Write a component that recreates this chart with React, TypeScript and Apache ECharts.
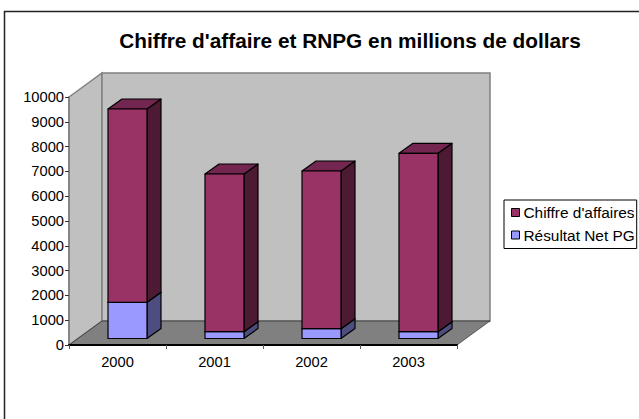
import React, { useEffect, useRef } from "react";
import * as echarts from "echarts";

const categories = ["2000", "2001", "2002", "2003"];
const resultatNet = [1460, 275, 395, 275];
const chiffreAffaires = [7794, 6358, 6359, 7193];
const yTicksMax = 10000;
const titleText = "Chiffre d'affaire et RNPG en millions de dollars";

const FONT = "'Liberation Sans', Arial, sans-serif";
const GRID = { left: 69, top: 97, width: 388, height: 248 };
const WALL = { dx: 33, dy: -24 };
const BAR = { offX: 10, offY: -6.5, width: 39, depthX: 14, depthY: -10 };

const poly = (pts: number[][], fill: string) => ({
  type: "polygon",
  shape: { points: pts },
  style: { fill, stroke: "#000", lineWidth: 1.2, lineJoin: "round" },
});

const boxRenderer = (front: string, top: string, side: string, lowerOf: number[] | null) => (params: any, api: any) => {
  const i = api.value(0);
  const v = api.value(1);
  const base = lowerOf ? lowerOf[i] : 0;
  const c0 = api.coord([i, base]);
  const c1 = api.coord([i, base + v]);
  const xL = c0[0] + BAR.offX - BAR.width / 2;
  const xR = xL + BAR.width;
  const yB = c0[1] + BAR.offY;
  const yT = c1[1] + BAR.offY;
  const dx = BAR.depthX;
  const dy = BAR.depthY;
  return {
    type: "group",
    children: [
      poly([[xR, yB], [xR + dx, yB + dy], [xR + dx, yT + dy], [xR, yT]], side),
      poly([[xL, yT], [xL + dx, yT + dy], [xR + dx, yT + dy], [xR, yT]], top),
      poly([[xL, yB], [xR, yB], [xR, yT], [xL, yT]], front),
    ],
  };
};

export default function App() {
  const ref = useRef<HTMLDivElement>(null);
  useEffect(() => {
    const chart = echarts.init(ref.current!, undefined, { renderer: "svg" });
    const x0 = GRID.left;
    const x1 = GRID.left + GRID.width;
    const y0 = GRID.top;
    const y1 = GRID.top + GRID.height;
    const { dx, dy } = WALL;
    const wallStyle = { fill: "#c0c0c0", stroke: "#808080", lineWidth: 1.5 };
    chart.setOption({
      animation: false,
      backgroundColor: "#fff",
      title: {
        text: titleText,
        left: 345,
        top: 25,
        textAlign: "center",
        textStyle: { fontFamily: FONT, fontSize: 20.8, fontWeight: "bold", color: "#000" },
      },
      legend: {
        orient: "vertical",
        left: 504,
        top: 200,
        width: 135,
        padding: [5, 2, 6, 7],
        itemGap: 7.5,
        itemWidth: 8,
        itemHeight: 8,
        borderColor: "#000",
        borderWidth: 1,
        data: ["Chiffre d'affaires", "Résultat Net PG"],
        textStyle: { fontFamily: FONT, fontSize: 15.4, color: "#000", padding: [0, 0, 0, -1] },
        icon: "rect",
        itemStyle: { borderColor: "#000", borderWidth: 1 },
      },
      grid: { ...GRID, containLabel: false },
      xAxis: {
        type: "category",
        data: categories,
        axisLine: { lineStyle: { color: "#000", width: 2 } },
        axisTick: { show: true, alignWithLabel: false, length: 4, lineStyle: { color: "#555" } },
        axisLabel: { fontFamily: FONT, fontSize: 14.7, color: "#000", margin: 9 },
      },
      yAxis: {
        type: "value",
        min: 0,
        max: yTicksMax,
        interval: 1000,
        splitLine: { show: false },
        axisLine: { show: true, lineStyle: { color: "#808080", width: 1.5 } },
        axisTick: { show: true, length: 4, lineStyle: { color: "#333" } },
        axisLabel: { fontFamily: FONT, fontSize: 14.7, color: "#000", margin: 5, formatter: (v: number) => String(v) },
      },
      graphic: [
        { type: "rect", z: -10, shape: { x: 4.5, y: 11.5, width: 650, height: 430 }, style: { fill: "#fff", stroke: "#222", lineWidth: 1.5 } },
        { type: "polygon", z: -9, shape: { points: [[x0, y0], [x0 + dx, y0 + dy], [x0 + dx, y1 + dy], [x0, y1]] }, style: wallStyle },
        { type: "rect", z: -9, shape: { x: x0 + dx, y: y0 + dy, width: x1 - x0, height: y1 - y0 }, style: wallStyle },
        { type: "polygon", z: -8, shape: { points: [[x0, y1], [x0 + dx, y1 + dy], [x1 + dx, y1 + dy], [x1, y1]] }, style: { fill: "#808080", stroke: "#000", lineWidth: 0.5 } },
      ],
      series: [
        {
          name: "Résultat Net PG",
          type: "custom",
          z: 3,
          clip: false,
          itemStyle: { color: "#9999ff" },
          renderItem: boxRenderer("#9999ff", "#7373bf", "#4d4d80", null),
          encode: { x: 0, y: 1 },
          data: resultatNet.map((v, i) => [i, v]),
        },
        {
          name: "Chiffre d'affaires",
          type: "custom",
          z: 4,
          clip: false,
          itemStyle: { color: "#993366" },
          renderItem: boxRenderer("#993366", "#732650", "#4d1a33", resultatNet),
          encode: { x: 0, y: 1 },
          data: chiffreAffaires.map((v, i) => [i, v]),
        },
      ],
    });
    return () => chart.dispose();
  }, []);
  return <div ref={ref} style={{ position: "fixed", left: 0, top: 0, width: 639, height: 419 }} />;
}
